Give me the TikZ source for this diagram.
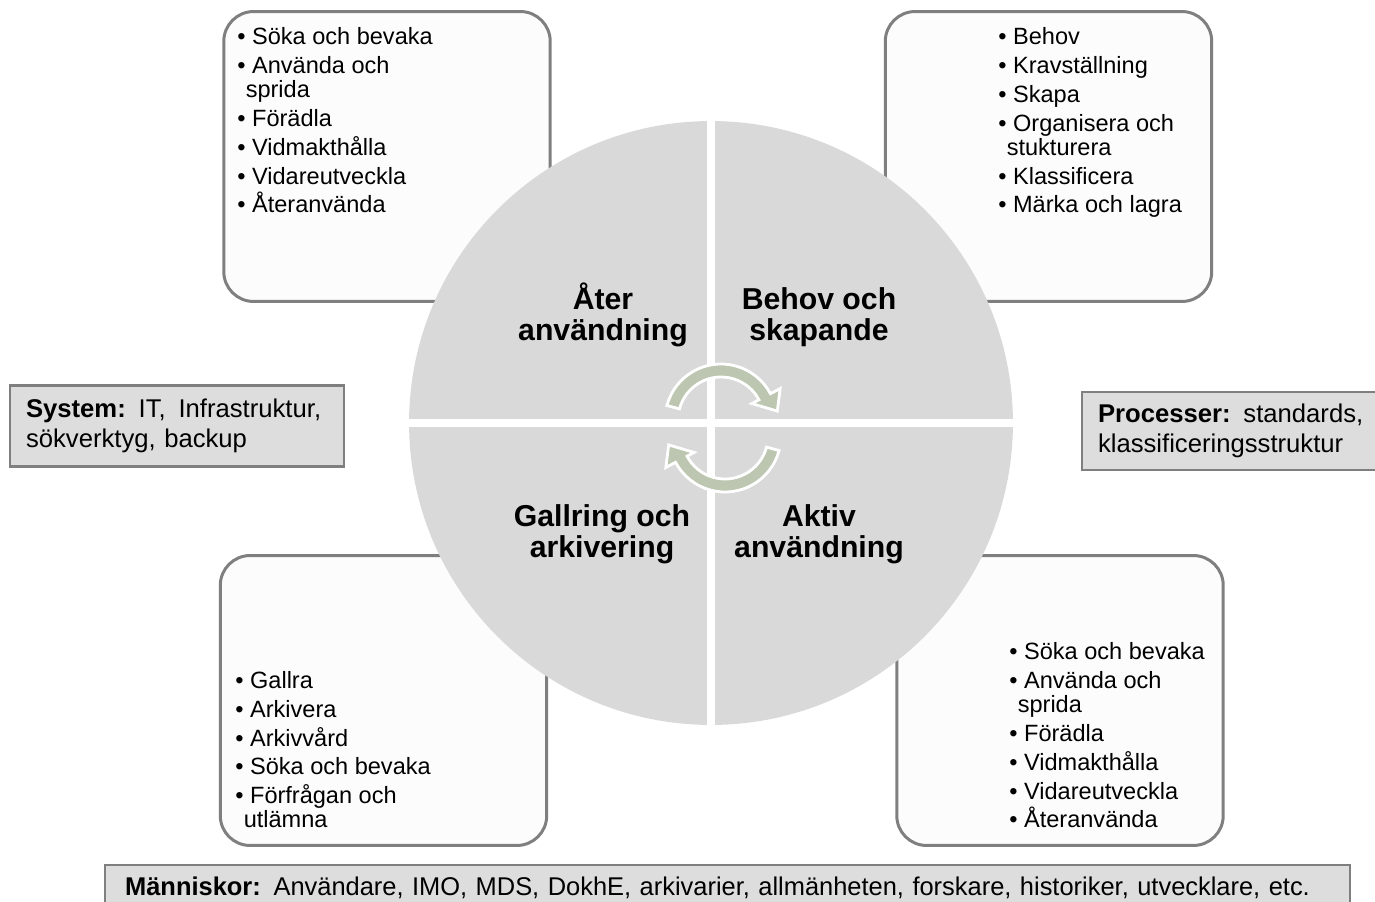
\documentclass[tikz,border=0pt]{standalone}
\usepackage{fontspec}
\setmainfont{Liberation Sans}
\usepackage{graphicx}

\definecolor{quadgray}{HTML}{D9D9D9}
\definecolor{boxline}{HTML}{7F7F7F}
\definecolor{boxfill}{HTML}{FCFCFC}
\definecolor{sidefill}{HTML}{DDDDDD}
\definecolor{cyclegreen}{HTML}{BCC6B0}

\tikzset{
  listbox/.style={draw=boxline, line width=1.7pt, fill=boxfill, rounded corners=17pt,
    minimum width=6.53cm, minimum height=5.8cm, inner sep=0pt},
  listtext/.style={anchor=north west, align=left, inner sep=0pt,
    font=\fontsize{13.4}{13.6}\selectfont},
  sidebox/.style={draw=boxline, line width=1.2pt, fill=sidefill, align=left,
    inner xsep=0.32cm, inner ysep=0pt, font=\fontsize{14.6}{17}\selectfont},
  quadlabel/.style={align=center, inner sep=0pt, font=\fontsize{17.2}{17.5}\selectfont\bfseries},
  cyclearrow/.style={fill=cyclegreen, draw=white, line width=1.6pt, line join=miter},
}

\begin{document}
\begin{tikzpicture}[x=0.02cm, y=-0.02cm]
\useasboundingbox (0,0) rectangle (1375,902);

% the four rounded boxes behind the wheel
\node[listbox] (reusebox)   at (387,156.5) {};
\node[listbox] (createbox)  at (1048.5,156.5) {};
\node[listbox] (archivebox) at (383.5,700.5) {};
\node[listbox] (activebox)  at (1060,700.5) {};

\node[listtext] (reuselist) at (237,27.5) {• Söka och bevaka\\[2.8pt]
  • Använda och\\ \hspace*{4.8pt}sprida\\[2.8pt]
  • Förädla\\[2.8pt]
  • Vidmakthålla\\[2.8pt]
  • Vidareutveckla\\[2.8pt]
  • Återanvända};
\node[listtext] (createlist) at (998,27.5) {• Behov\\[2.8pt]
  • Kravställning\\[2.8pt]
  • Skapa\\[2.8pt]
  • Organisera och\\ \hspace*{4.8pt}stukturera\\[2.8pt]
  • Klassificera\\[2.8pt]
  • Märka och lagra};
\node[listtext] (archivelist) at (235,671) {• Gallra\\[2.8pt]
  • Arkivera\\[2.8pt]
  • Arkivvård\\[2.8pt]
  • Söka och bevaka\\[2.8pt]
  • Förfrågan och\\ \hspace*{4.8pt}utlämna};
\node[listtext] (activelist) at (1009,642.5) {• Söka och bevaka\\[2.8pt]
  • Använda och\\ \hspace*{4.8pt}sprida\\[2.8pt]
  • Förädla\\[2.8pt]
  • Vidmakthålla\\[2.8pt]
  • Vidareutveckla\\[2.8pt]
  • Återanvända};

% wheel split in quarters
\node[circle, fill=quadgray, minimum size=12.08cm, inner sep=0pt] (wheel) at (711,423) {};
\draw[white, line width=4pt] (wheel.north) -- (wheel.south);
\draw[white, line width=4pt] (wheel.west) -- (wheel.east);

\node[quadlabel] (reuse)   at (603,315)   {Åter\\användning};
\node[quadlabel] (create)  at (819,317.5) {Behov och\\skapande};
\node[quadlabel] (archive) at (602,534.5) {Gallring och\\arkivering};
\node[quadlabel] (active)  at (819,534.5) {Aktiv\\användning};

% cycle arrows in the middle
\foreach \cx/\cy/\a in {721/420/0, 725/436/180}
  \filldraw[cyclearrow, shift={(\cx,\cy)}] (195+\a:56)
    arc[start angle=195+\a, end angle=332+\a, radius=56]
    -- (332+\a:67) -- (351+\a:57) -- (332+\a:35) -- (332+\a:43)
    arc[start angle=332+\a, end angle=195+\a, radius=43] -- cycle;

% side boxes
\node[sidebox, minimum width=6.68cm, minimum height=1.62cm, text width=6.04cm] (system)
  at (177,426) {\textbf{System:} IT, \,Infrastruktur,\\sökverktyg, backup};
\node[sidebox, minimum width=5.96cm, minimum height=1.56cm, text width=5.32cm] (process)
  at (1231,431) {\textbf{Processer:} standards,\\klassificeringsstruktur};
\node[sidebox, minimum width=24.9cm, minimum height=0.9cm, inner xsep=0.4cm, text width=24.1cm] (people)
  at (727.5,887.5) {\resizebox{23.7cm}{\height}{\textbf{Människor:} Användare, IMO, MDS, DokhE, arkivarier, allmänheten, forskare, historiker, utvecklare, etc.}};
\end{tikzpicture}
\end{document}
